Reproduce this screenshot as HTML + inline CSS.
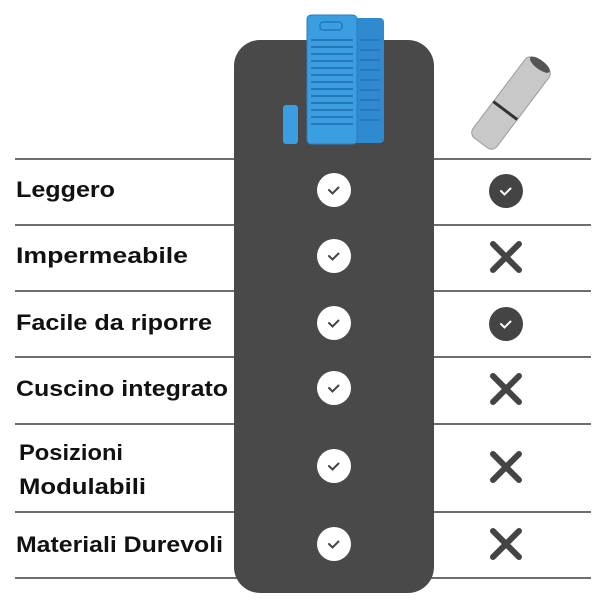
<!DOCTYPE html>
<html><head><style>html,body{margin:0;padding:0;background:#fff}svg{display:block}</style></head>
<body>
<svg width="600" height="600" viewBox="0 0 600 600" xmlns="http://www.w3.org/2000/svg">
<rect x="0" y="0" width="600" height="600" fill="#fff"/>
<g stroke="#6e6e6e" stroke-width="2">
<line x1="15" y1="159" x2="591" y2="159"/>
<line x1="15" y1="225" x2="591" y2="225"/>
<line x1="15" y1="291" x2="591" y2="291"/>
<line x1="15" y1="357" x2="591" y2="357"/>
<line x1="15" y1="424" x2="591" y2="424"/>
<line x1="15" y1="512" x2="591" y2="512"/>
<line x1="15" y1="578" x2="591" y2="578"/>
</g>
<rect x="234" y="40" width="200" height="553" rx="26" fill="#494949"/>
<!-- blue mats -->
<rect x="345" y="18" width="39" height="125" rx="4" fill="#2f8ad0"/>
<rect x="307" y="15" width="50" height="129" rx="4" fill="#3a9ee0" stroke="#2a7fbf" stroke-width="1"/>
<g stroke="#2678b8" stroke-width="2" fill="none">
<path d="M311 40h42M311 47h42M311 54h42M311 61h42M311 68h42M311 75h42M311 82h42M311 89h42M311 96h42M311 103h42M311 110h42M311 117h42M311 124h42"/>
<path d="M360 40h20M360 50h20M360 60h20M360 70h20M360 80h20M360 90h20M360 100h20M360 110h20M360 120h20"/>
</g>
<rect x="320" y="22" width="22" height="8" rx="3" fill="none" stroke="#2678b8" stroke-width="1.5"/>
<rect x="283" y="105" width="15" height="39" rx="3" fill="#3a9ee0"/>
<!-- foam roll -->
<g transform="translate(511,103) rotate(37)">
<rect x="-15" y="-50" width="30" height="100" rx="7" fill="#c8c8c8" stroke="#9a9a9a"/>
<rect x="-15" y="8" width="30" height="3" fill="#333"/>
<ellipse cx="0" cy="-48" rx="12" ry="4.5" fill="#555"/>
</g>
<g font-family="Liberation Sans, sans-serif" font-weight="bold" font-size="22" fill="#111" lengthAdjust="spacingAndGlyphs">
<text x="16" y="197" textLength="99" lengthAdjust="spacingAndGlyphs">Leggero</text>
<text x="16" y="263" textLength="172" lengthAdjust="spacingAndGlyphs">Impermeabile</text>
<text x="16" y="330" textLength="196" lengthAdjust="spacingAndGlyphs">Facile da riporre</text>
<text x="16" y="396" textLength="212" lengthAdjust="spacingAndGlyphs">Cuscino integrato</text>
<text x="19" y="460" textLength="104" lengthAdjust="spacingAndGlyphs">Posizioni</text>
<text x="19" y="494" textLength="127" lengthAdjust="spacingAndGlyphs">Modulabili</text>
<text x="16" y="552" textLength="207" lengthAdjust="spacingAndGlyphs">Materiali Durevoli</text>
</g>
<g>
<g fill="#fff"><circle cx="334" cy="190" r="17"/><circle cx="334" cy="256" r="17"/><circle cx="334" cy="323" r="17"/><circle cx="334" cy="388" r="17"/><circle cx="334" cy="466" r="17"/><circle cx="334" cy="544" r="17"/></g>
<g stroke="#444" stroke-width="2" fill="none" stroke-linecap="round">
<path d="M329 190l3.5 3.5 6-6"/><path d="M329 256l3.5 3.5 6-6"/><path d="M329 323l3.5 3.5 6-6"/><path d="M329 388l3.5 3.5 6-6"/><path d="M329 466l3.5 3.5 6-6"/><path d="M329 544l3.5 3.5 6-6"/>
</g>
</g>
<g fill="#444"><circle cx="506" cy="191" r="17"/><circle cx="506" cy="324" r="17"/></g>
<g stroke="#fff" stroke-width="2" fill="none" stroke-linecap="round"><path d="M501 191l3.5 3.5 6-6"/><path d="M501 324l3.5 3.5 6-6"/></g>
<g stroke="#444" stroke-width="6" stroke-linecap="round">
<path d="M493 244l26 26M519 244l-26 26"/>
<path d="M493 376l26 26M519 376l-26 26"/>
<path d="M493 454l26 26M519 454l-26 26"/>
<path d="M493 531l26 26M519 531l-26 26"/>
</g>
</svg>
</body></html>
